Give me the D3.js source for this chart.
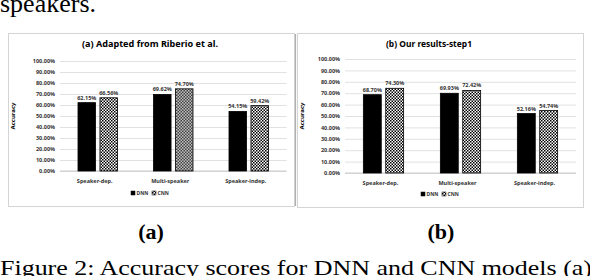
<!DOCTYPE html>
<html>
<head>
<meta charset="utf-8">
<script src="https://cdn.jsdelivr.net/npm/d3@7"></script>
<style>
  html, body { margin: 0; padding: 0; background: #fff; }
  svg { display: block; }
  .serif { font-family: 'Liberation Serif', 'Times New Roman', Times, serif; }
</style>
</head>
<body>
<svg id="fig" width="590" height="276"></svg>
<script>
const categories = ['Speaker-dep.', 'Multi-speaker', 'Speaker-indep.'];
const series = ['DNN', 'CNN'];
const yTicks = [0, 10, 20, 30, 40, 50, 60, 70, 80, 90, 100];

const adaptedDNN = [62.15, 69.62, 54.15];
const adaptedCNN = [66.56, 74.70, 59.42];
const oursDNN = [68.70, 69.93, 52.16];
const oursCNN = [74.30, 72.42, 54.74];

const svg = d3.select('#fig');

const defs = svg.append('defs');
const checker = defs.append('pattern')
    .attr('id', 'checker')
    .attr('patternUnits', 'userSpaceOnUse')
    .attr('width', 3)
    .attr('height', 3);
checker.append('rect').attr('width', 3).attr('height', 3).attr('fill', '#fff');
checker.append('rect').attr('width', 1.5).attr('height', 1.5).attr('fill', '#000');
checker.append('rect').attr('x', 1.5).attr('y', 1.5).attr('width', 1.5).attr('height', 1.5).attr('fill', '#000');

const fill = d => d === 'DNN' ? '#000' : 'url(#checker)';

// text from the page around the figure
svg.append('text')
    .attr('class', 'serif')
    .attr('x', 0)
    .attr('y', 12)
    .attr('font-size', 26)
    .text('speakers.');

svg.append('text')
    .attr('class', 'serif')
    .attr('x', 0)
    .attr('y', 275)
    .attr('font-size', 22)
    .attr('textLength', 592)
    .attr('lengthAdjust', 'spacingAndGlyphs')
    .text('Figure 2: Accuracy scores for DNN and CNN models (a)');

const panels = [
    {
        title: '(a) Adapted from Riberio et al.', titleWidth: 136, titleX: 150, label: '(a)', labelX: 151,
        box: [8, 33, 294, 206], plot: {x0: 60, x1: 286.5, y0: 171, y1: 61},
        dnn: adaptedDNN, cnn: adaptedCNN, legendX: 131
    },
    {
        title: '(b) Our results-step1', titleWidth: 86, titleX: 429, label: '(b)', labelX: 441,
        box: [297, 33, 583, 207], plot: {x0: 345, x1: 576, y0: 173, y1: 59},
        dnn: oursDNN, cnn: oursCNN, legendX: 421
    }
];

function drawPanel(p) {
    const g = svg.append('g');
    const [bx0, by0, bx1, by1] = p.box;

    g.append('rect')
        .attr('x', bx0 + 0.5).attr('y', by0 + 0.5)
        .attr('width', bx1 - bx0).attr('height', by1 - by0)
        .attr('fill', '#fff')
        .attr('stroke', '#d4d4d4');

    g.append('text')
        .attr('x', p.titleX)
        .attr('y', by0 + 14)
        .attr('text-anchor', 'middle')
        .attr('font-family', 'Noto Sans, sans-serif')
        .attr('font-weight', 'bold')
        .attr('font-size', 8.5)
        .attr('textLength', p.titleWidth)
        .attr('lengthAdjust', 'spacingAndGlyphs')
        .text(p.title);

    const y = d3.scaleLinear().domain([0, 100]).range([p.plot.y0, p.plot.y1]);
    const x0 = d3.scaleBand().domain(categories).range([p.plot.x0, p.plot.x1]);
    const x1 = d3.scaleBand().domain(series).range([0, x0.bandwidth()])
        .paddingInner(0.2).paddingOuter(0.82);

    const yAxis = d3.axisLeft(y)
        .tickValues(yTicks)
        .tickSize(-(p.plot.x1 - p.plot.x0))
        .tickPadding(5)
        .tickFormat(d => d.toFixed(2) + '%');

    const ax = g.append('g')
        .attr('transform', `translate(${p.plot.x0},0)`)
        .call(yAxis);
    ax.select('.domain').remove();
    ax.selectAll('.tick line').attr('stroke', '#d9d9d9').attr('stroke-width', 0.8);
    ax.selectAll('.tick text')
        .attr('fill', '#333')
        .attr('font-family', 'Noto Sans, sans-serif')
        .attr('font-weight', 'bold')
        .attr('font-size', 5.5);

    g.append('line')
        .attr('x1', p.plot.x0).attr('x2', p.plot.x1)
        .attr('y1', y(0)).attr('y2', y(0))
        .attr('stroke', '#bfbfbf').attr('stroke-width', 0.8);

    g.append('text')
        .attr('transform', `translate(${bx0 + 7},${(p.plot.y0 + p.plot.y1) / 2}) rotate(-90)`)
        .attr('text-anchor', 'middle')
        .attr('font-family', 'Noto Sans, sans-serif')
        .attr('font-weight', 'bold')
        .attr('font-size', 6)
        .text('Accuracy');

    const rows = categories.map((c, i) => ({
        category: c,
        values: [{key: 'DNN', value: p.dnn[i]}, {key: 'CNN', value: p.cnn[i]}]
    }));

    const group = g.selectAll('.group').data(rows)
        .enter().append('g')
            .attr('class', 'group')
            .attr('transform', d => `translate(${x0(d.category)},0)`);

    group.selectAll('rect').data(d => d.values)
        .enter().append('rect')
            .attr('x', d => x1(d.key))
            .attr('y', d => y(d.value))
            .attr('width', x1.bandwidth())
            .attr('height', d => y(0) - y(d.value))
            .attr('fill', d => fill(d.key))
            .attr('stroke', '#000')
            .attr('stroke-width', 0.8);

    group.selectAll('.val').data(d => d.values)
        .enter().append('text')
            .attr('class', 'val')
            .attr('x', d => x1(d.key) + x1.bandwidth() / 2)
            .attr('y', d => y(d.value) - 3)
            .attr('text-anchor', 'middle')
            .attr('font-family', 'Noto Sans, sans-serif')
            .attr('font-weight', 'bold')
            .attr('font-size', 5.5)
            .attr('fill', '#333')
            .text(d => d.value.toFixed(2) + '%');

    g.selectAll('.cat').data(categories)
        .enter().append('text')
            .attr('class', 'cat')
            .attr('x', d => x0(d) + x0.bandwidth() / 2 - 3)
            .attr('y', p.plot.y0 + 12)
            .attr('text-anchor', 'middle')
            .attr('font-family', 'Noto Sans, sans-serif')
            .attr('font-weight', 'bold')
            .attr('font-size', 5.5)
            .attr('fill', '#333')
            .text(d => d);

    const legend = g.selectAll('.legend').data(series)
        .enter().append('g')
            .attr('class', 'legend')
            .attr('transform', (d, i) => `translate(${p.legendX + i * 21},${by1 - 11})`);
    legend.append('rect')
        .attr('y', -4).attr('width', 4).attr('height', 4)
        .attr('fill', d => fill(d))
        .attr('stroke', '#000').attr('stroke-width', 0.5);
    legend.append('text')
        .attr('x', 5.5)
        .attr('font-family', 'Noto Sans, sans-serif')
        .attr('font-weight', 'bold')
        .attr('font-size', 5)
        .attr('fill', '#333')
        .text(d => d);

    svg.append('text')
        .attr('class', 'serif')
        .attr('x', p.labelX)
        .attr('y', 239)
        .attr('text-anchor', 'middle')
        .attr('font-weight', 'bold')
        .attr('font-size', 22)
        .text(p.label);
}

panels.forEach(drawPanel);

// darker edge on the right of panel (a)
svg.append('line')
    .attr('x1', 295.5).attr('x2', 295.5)
    .attr('y1', 34).attr('y2', 206)
    .attr('stroke', '#b0b0b0').attr('stroke-width', 1.2);
</script>
</body>
</html>
